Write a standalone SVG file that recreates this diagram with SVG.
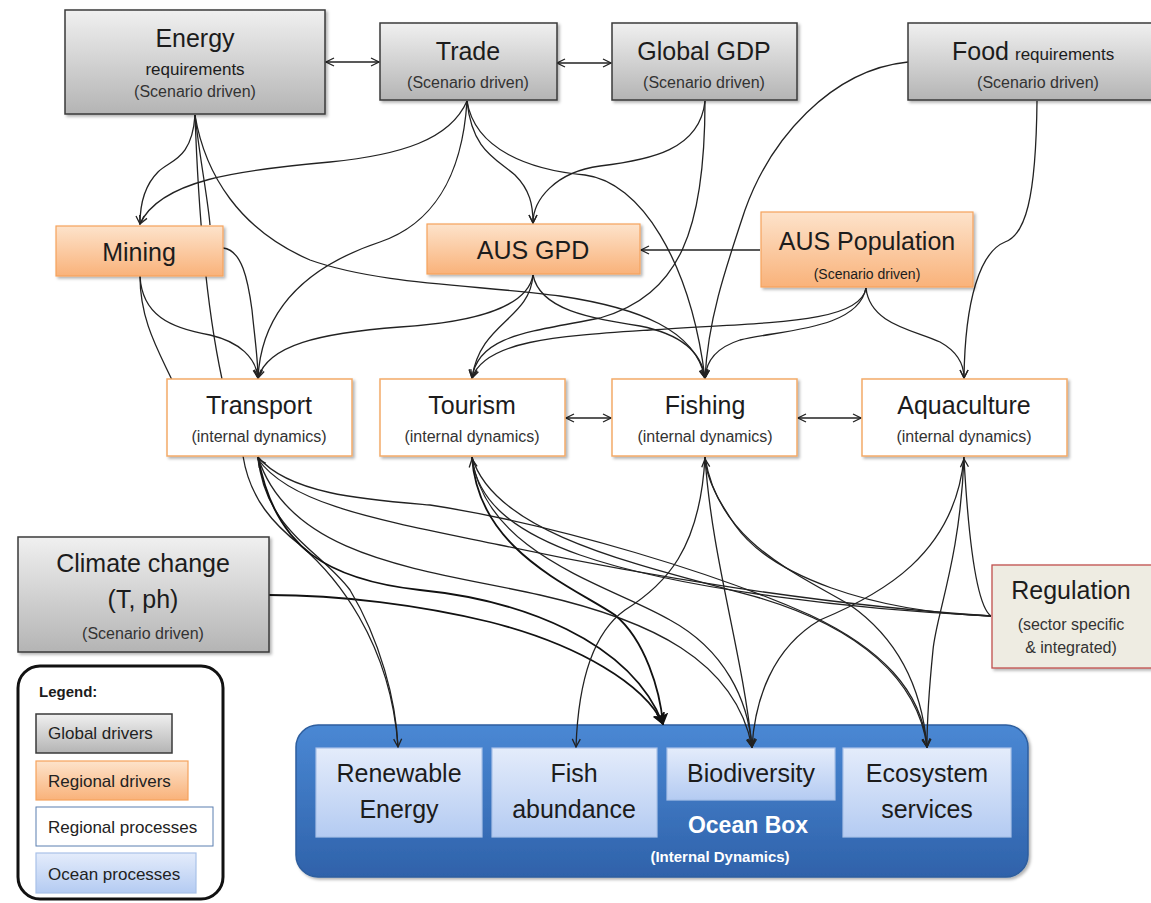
<svg xmlns="http://www.w3.org/2000/svg" width="1151" height="903" viewBox="0 0 1151 903">
<defs>
<linearGradient id="gGray" x1="0" y1="0" x2="0" y2="1"><stop offset="0" stop-color="#f0f0f0"/><stop offset="1" stop-color="#b4b4b4"/></linearGradient>
<linearGradient id="gOrange" x1="0" y1="0" x2="0" y2="1"><stop offset="0" stop-color="#fde3cb"/><stop offset="1" stop-color="#f9b27a"/></linearGradient>
<linearGradient id="gBlueIn" x1="0" y1="0" x2="0" y2="1"><stop offset="0" stop-color="#e4ecfb"/><stop offset="1" stop-color="#b4cbf2"/></linearGradient>
<linearGradient id="gOcean" x1="0" y1="0" x2="0" y2="1"><stop offset="0" stop-color="#4a88d4"/><stop offset="1" stop-color="#2f62aa"/></linearGradient>
<filter id="sh" x="-10%" y="-10%" width="130%" height="140%"><feDropShadow dx="2" dy="2" stdDeviation="1.5" flood-color="#000" flood-opacity="0.3"/></filter>
<marker id="a" viewBox="0 0 10 10" refX="9" refY="5" markerWidth="10" markerHeight="10" markerUnits="userSpaceOnUse" orient="auto-start-reverse"><path d="M1,1 L9,5 L1,9" fill="none" stroke="#222" stroke-width="1.3"/></marker>
<marker id="b" viewBox="0 0 10 10" refX="9" refY="5" markerWidth="12" markerHeight="12" markerUnits="userSpaceOnUse" orient="auto-start-reverse"><path d="M1,1 L9,5 L1,9 L3,5 Z" fill="#111" stroke="#111" stroke-width="1.2"/></marker>
</defs>
<style>
.c{fill:none;stroke:#222;stroke-width:1.3}
.ae{marker-end:url(#a)}
.ab{marker-start:url(#a);marker-end:url(#a)}
.tk{fill:none;stroke:#111;stroke-width:1.8;marker-end:url(#b)}
.gray{fill:url(#gGray);stroke:#3a3a3a;stroke-width:1.5}
.org{fill:url(#gOrange);stroke:#f5a25c;stroke-width:1.2}
.proc{fill:#ffffff;stroke:#f3aa68;stroke-width:1.5}
.inner{fill:url(#gBlueIn);stroke:#a9c1e8;stroke-width:1.2}
text{font-family:"Liberation Sans",Arial,sans-serif;fill:#1c1c1c;text-anchor:middle}
.t1{font-size:25px}
.t2{font-size:17px}
.t3{font-size:16px;fill:#333}
.lg{font-size:17px;text-anchor:start;fill:#222}
</style>
<rect width="1151" height="903" fill="#ffffff"/>

<g id="ocean-box"><rect x="296" y="725" width="732" height="152" rx="22" fill="url(#gOcean)" stroke="#2e5e9e" stroke-width="1.5" filter="url(#sh)"/><text x="748" y="833" font-size="23" font-weight="bold" style="fill:#ffffff">Ocean Box</text><text x="720" y="862" font-size="15" font-weight="bold" style="fill:#ffffff">(Internal Dynamics)</text></g>
<g id="renewable-energy"><rect class="inner" x="316" y="748" width="166" height="89"/><text class="t1" x="399" y="782" font-size="26">Renewable</text><text class="t1" x="399" y="818" font-size="26">Energy</text></g>
<g id="fish-abundance"><rect class="inner" x="492" y="748" width="165" height="89"/><text class="t1" x="574" y="782" font-size="26">Fish</text><text class="t1" x="574" y="818" font-size="26">abundance</text></g>
<g id="biodiversity"><rect class="inner" x="667" y="748" width="168" height="52"/><text class="t1" x="751" y="782" font-size="26">Biodiversity</text></g>
<g id="ecosystem-services"><rect class="inner" x="843" y="748" width="168" height="89"/><text class="t1" x="927" y="782" font-size="26">Ecosystem</text><text class="t1" x="927" y="818" font-size="26">services</text></g>

<g id="connectors">
<path class="c ab" d="M326,62 L379,62"/>
<path class="c ab" d="M557,63 L611,63"/>
<path class="c ae" d="M195,115 C192,160 170,160 158,172 C146,184 140,200 140,224"/>
<path class="c" d="M195,115 C200,160 208,200 210,225"/>
<path class="c" d="M195,115 C198,200 205,300 222,379"/>
<path class="c ae" d="M195,115 C205,175 240,230 310,260 C380,285 480,285 560,296 C640,308 695,330 705,378"/>
<path class="c ae" d="M467,101 C450,140 400,155 330,162 C240,170 160,180 140,224"/>
<path class="c ae" d="M467,101 C462,180 430,225 380,242 C320,262 262,300 258,378"/>
<path class="c ae" d="M467,101 C472,150 495,158 515,175 C530,190 533,205 533,223"/>
<path class="c ae" d="M467,101 C475,150 530,170 585,175 C640,182 690,260 705,378"/>
<path class="c ae" d="M705,101 C700,150 650,160 600,166 C555,172 533,200 533,223"/>
<path class="c ae" d="M705,101 C705,230 680,295 600,318 C530,332 478,335 472,378"/>
<path class="c ae" d="M908,62 C830,70 770,140 745,210 C725,270 708,320 705,378"/>
<path class="c ae" d="M1037,101 C1036,200 1025,235 1005,242 C980,252 965,300 964,378"/>
<path class="c ae" d="M760,250 L641,250"/>
<path class="c ae" d="M866,288 C858,330 780,330 740,340 C715,348 706,362 705,378"/>
<path class="c ae" d="M866,288 C860,325 760,322 650,330 C560,336 485,340 472,378"/>
<path class="c ae" d="M866,288 C870,325 915,330 940,342 C958,352 964,365 964,378"/>
<path class="c ae" d="M533,275 C528,305 480,322 400,327 C320,333 268,345 258,378"/>
<path class="c ae" d="M533,275 C530,320 480,322 472,378"/>
<path class="c ae" d="M533,275 C540,310 590,318 640,326 C685,335 702,355 705,378"/>
<path class="c ae" d="M223,248 C242,250 248,280 252,310 C255,340 258,360 258,378"/>
<path class="c ae" d="M140,276 C142,315 170,328 210,335 C240,342 256,358 258,378"/>
<path class="c" d="M140,276 C140,320 158,350 172,380"/>
<path class="c ab" d="M566,418 L611,418"/>
<path class="c ab" d="M798,418 L861,418"/>

<path class="tk" d="M269,595 C340,595 420,605 490,622 C580,645 645,685 663,724"/>
<path class="c ae" d="M258,457 C265,530 320,550 350,590 C380,640 396,700 398,747"/>
<path class="c" d="M243,456 C250,500 275,525 300,545 C335,575 390,640 398,746"/>
<path class="tk" d="M258,457 C275,550 330,580 420,590 C520,600 630,640 663,724"/>
<path class="c ae" d="M258,457 C290,560 430,570 540,595 C650,620 735,660 752,747"/>
<path class="c ae" d="M258,457 C290,495 370,500 430,505 C560,525 720,575 810,615 C880,648 922,690 927,747"/>
<path class="c ae" d="M991,616 C820,605 640,575 500,545 C380,520 290,505 258,459"/>
<path class="tk" d="M472,457 C478,550 570,585 615,615 C645,640 660,690 663,724"/>
<path class="c ae" d="M472,457 C485,555 610,585 670,620 C725,650 748,700 752,747"/>
<path class="c ae" d="M472,457 C495,535 640,565 760,598 C860,628 918,680 927,747"/>
<path class="c ae" d="M991,616 C860,610 680,590 580,555 C510,530 478,500 472,459"/>
<path class="c ae" d="M705,457 C700,550 665,585 625,610 C590,635 578,690 576,747"/>
<path class="c ae" d="M705,457 C712,560 742,650 752,747"/>
<path class="c ae" d="M705,457 C718,540 790,570 850,605 C900,640 922,690 927,747"/>
<path class="c ae" d="M991,616 C870,612 770,575 735,525 C718,500 707,480 705,459"/>
<path class="c ae" d="M964,457 C955,555 880,595 820,620 C772,648 755,700 752,747"/>
<path class="c ae" d="M964,457 C960,560 936,615 933,650 C929,690 927,720 927,747"/>
<path class="c ae" d="M991,616 C975,605 968,530 964,459"/>
</g>

<g id="energy"><rect class="gray" x="65" y="10" width="260" height="104" filter="url(#sh)"/><text class="t1" x="195" y="47">Energy</text><text class="t2" x="195" y="75">requirements</text><text class="t3" x="195" y="97">(Scenario driven)</text></g>
<g id="trade"><rect class="gray" x="380" y="23" width="177" height="77" filter="url(#sh)"/><text class="t1" x="468" y="60">Trade</text><text class="t3" x="468" y="88">(Scenario driven)</text></g>
<g id="global-gdp"><rect class="gray" x="612" y="23" width="185" height="77" filter="url(#sh)"/><text class="t1" x="704" y="60">Global GDP</text><text class="t3" x="704" y="88">(Scenario driven)</text></g>
<g id="food"><rect class="gray" x="908" y="23" width="245" height="77" filter="url(#sh)"/><text class="t1" x="952" y="60" style="text-anchor:start">Food<tspan font-size="17" dx="6">requirements</tspan></text><text class="t3" x="1038" y="88">(Scenario driven)</text></g>

<g id="mining"><rect class="org" x="56" y="226" width="167" height="50" filter="url(#sh)"/><text class="t1" x="139" y="261" font-size="26">Mining</text></g>
<g id="aus-gpd"><rect class="org" x="427" y="224" width="213" height="50" filter="url(#sh)"/><text class="t1" x="533" y="259" font-size="26">AUS GPD</text></g>
<g id="aus-population"><rect class="org" x="761" y="212" width="212" height="75" filter="url(#sh)"/><text class="t1" x="867" y="250" font-size="26">AUS Population</text><text x="867" y="279" font-size="14" fill="#333">(Scenario driven)</text></g>

<g id="transport"><rect class="proc" x="167" y="379" width="185" height="77" filter="url(#sh)"/><text class="t1" x="259" y="414">Transport</text><text class="t3" x="259" y="442">(internal dynamics)</text></g>
<g id="tourism"><rect class="proc" x="380" y="379" width="185" height="77" filter="url(#sh)"/><text class="t1" x="472" y="414">Tourism</text><text class="t3" x="472" y="442">(internal dynamics)</text></g>
<g id="fishing"><rect class="proc" x="612" y="379" width="185" height="77" filter="url(#sh)"/><text class="t1" x="705" y="414">Fishing</text><text class="t3" x="705" y="442">(internal dynamics)</text></g>
<g id="aquaculture"><rect class="proc" x="862" y="379" width="205" height="77" filter="url(#sh)"/><text class="t1" x="964" y="414">Aquaculture</text><text class="t3" x="964" y="442">(internal dynamics)</text></g>

<g id="climate-change"><rect class="gray" x="18" y="537" width="251" height="115" filter="url(#sh)"/><text class="t1" x="143" y="572" font-size="26">Climate change</text><text class="t1" x="143" y="608" font-size="26">(T, ph)</text><text class="t3" x="143" y="639" font-size="15">(Scenario driven)</text></g>
<g id="regulation"><rect x="992" y="565" width="160" height="103" fill="#eeece2" stroke="#c0504d" stroke-width="1.3" filter="url(#sh)"/><text class="t1" x="1071" y="599" font-size="26">Regulation</text><text class="t3" x="1071" y="630">(sector specific</text><text class="t3" x="1071" y="653">&amp; integrated)</text></g>

<g id="legend"><rect x="18" y="666" width="205" height="233" rx="22" fill="#ffffff" stroke="#111" stroke-width="3"/><text x="39" y="697" font-size="15" font-weight="bold" style="text-anchor:start">Legend:</text>
<rect class="gray" x="36" y="714" width="136" height="39"/><text class="lg" x="48" y="739">Global drivers</text>
<rect class="org" x="36" y="761" width="152" height="39"/><text class="lg" x="48" y="787">Regional drivers</text>
<rect x="36" y="807" width="177" height="39" fill="#fff" stroke="#5b7fb0" stroke-width="1"/><text class="lg" x="48" y="833">Regional processes</text>
<rect class="inner" x="36" y="853" width="160" height="40" stroke="#7d9fd0"/><text class="lg" x="48" y="880">Ocean processes</text></g>
</svg>
